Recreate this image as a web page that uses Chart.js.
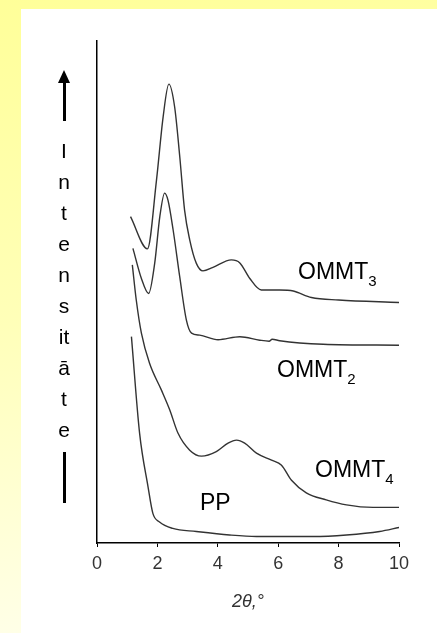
<!DOCTYPE html>
<html>
<head>
<meta charset="utf-8">
<style>
  body {
    margin: 0; width: 437px; height: 633px; overflow: hidden; position: relative;
    background: linear-gradient(170deg, #ffff99 0%, #ffffb8 45%, #fffff2 100%);
    font-family: "Liberation Sans", Arial, sans-serif;
  }
  #panel { position: absolute; left: 21px; top: 9px; right: 0; bottom: 0; background: #fff; }
  #chart { position: absolute; left: 0; top: 0; }
  .lbl { position: absolute; font-size: 23px; line-height: 23px; color: #000; white-space: nowrap; }
  .lbl sub { font-size: 15px; line-height: 0; vertical-align: -7px; }
  #ylab { position: absolute; left: 44px; width: 40px; top: 135px; text-align: center;
          font-size: 21px; line-height: 31px; color: #000; }
  #arrowHead { position: absolute; left: 58px; top: 70px; width: 0; height: 0;
               border-left: 6px solid transparent; border-right: 6px solid transparent;
               border-bottom: 13px solid #000; }
  #arrowStem { position: absolute; left: 63px; top: 82px; width: 2.5px; height: 39px; background: #000; }
  #bar { position: absolute; left: 63px; top: 452px; width: 2.5px; height: 51px; background: #000; }
</style>
</head>
<body>
<div id="panel"></div>
<canvas id="chart" width="437" height="633"></canvas>

<div id="arrowHead"></div>
<div id="arrowStem"></div>
<div id="ylab"><div>I</div><div>n</div><div>t</div><div>e</div><div>n</div><div>s</div><div>it</div><div>ā</div><div>t</div><div>e</div></div>
<div id="bar"></div>

<div class="lbl" style="left:298px;top:260px">OMMT<sub>3</sub></div>
<div class="lbl" style="left:277px;top:358px">OMMT<sub>2</sub></div>
<div class="lbl" style="left:315px;top:458px">OMMT<sub>4</sub></div>
<div class="lbl" style="left:200px;top:491px">PP</div>

<script src="https://cdn.jsdelivr.net/npm/chart.js"></script>
<script>
// 2θ positions and relative intensities of each diffractogram
const ommt3X = [1.11, 1.67, 1.97, 2.19, 2.38, 2.57, 2.74, 2.90, 3.07, 3.29, 3.51, 3.84, 4.45, 4.73, 5.06, 5.44, 6.05, 6.5, 7.1, 8.0, 10];
const ommt3Y = [65.0, 58.6, 72.3, 84.9, 91.4, 86.9, 77.0, 66.3, 60.4, 55.7, 54.2, 54.9, 56.4, 55.8, 52.7, 50.4, 50.4, 50.2, 48.9, 48.4, 47.9];

const ommt2X = [1.19, 1.47, 1.71, 1.91, 2.08, 2.24, 2.35, 2.52, 2.74, 2.96, 3.13, 3.40, 4.01, 4.73, 5.39, 5.70, 5.80, 6.05, 7.49, 10];
const ommt2Y = [58.7, 52.7, 49.7, 55.7, 65.0, 69.7, 68.3, 62.4, 53.0, 44.4, 41.8, 41.4, 40.5, 41.1, 40.4, 40.2, 40.6, 40.3, 39.6, 39.4];

const ommt4X = [1.17, 1.30, 1.47, 1.74, 2.13, 2.41, 2.68, 3.07, 3.46, 3.95, 4.34, 4.62, 4.89, 5.28, 5.78, 6.11, 6.44, 6.93, 7.59, 8.26, 9.14, 10];
const ommt4Y = [55.4, 48.4, 41.8, 35.8, 30.5, 26.5, 21.9, 18.5, 17.3, 18.2, 19.9, 20.5, 19.9, 17.9, 16.5, 15.5, 12.5, 10.0, 8.6, 7.6, 7.1, 7.1];

const ppX = [1.14, 1.41, 1.69, 1.85, 2.07, 2.51, 3.29, 4.39, 5.28, 7.15, 8.26, 9.36, 10];
const ppY = [41.1, 21.9, 11.2, 5.9, 4.2, 2.9, 2.3, 1.6, 1.3, 1.3, 1.6, 2.3, 3.1];

const xTicks = [0, 2, 4, 6, 8, 10];

function pts(xs, ys) {
  return xs.map((x, i) => ({ x: x, y: ys[i] }));
}

new Chart("chart", {
  type: "line",
  data: {
    datasets: [
      { label: "OMMT3", data: pts(ommt3X, ommt3Y) },
      { label: "OMMT2", data: pts(ommt2X, ommt2Y) },
      { label: "OMMT4", data: pts(ommt4X, ommt4Y) },
      { label: "PP", data: pts(ppX, ppY) }
    ]
  },
  options: {
    responsive: false,
    animation: false,
    layout: { padding: { left: 97, top: 41, right: 38, bottom: 0 } },
    plugins: { legend: { display: false }, tooltip: { enabled: false } },
    elements: {
      point: { radius: 0 },
      line: { borderColor: "#333", borderWidth: 1.4, cubicInterpolationMode: "monotone" }
    },
    scales: {
      x: {
        type: "linear", min: 0, max: 10,
        afterBuildTicks: s => { s.ticks = xTicks.map(v => ({ value: v })); },
        afterFit: s => { s.height = 90; },
        ticks: { color: "#333", padding: 6, font: { family: "Liberation Sans", size: 18 } },
        grid: { drawOnChartArea: false, color: "#000", tickLength: 4 },
        border: { color: "#000", width: 1.5 },
        title: {
          display: true, text: "2θ,°", color: "#333",
          font: { family: "Liberation Sans", size: 18, style: "italic" },
          padding: { top: 0, bottom: 20 }
        }
      },
      y: {
        min: 0, max: 100,
        afterFit: s => { s.width = 0; },
        ticks: { display: false },
        grid: { display: false },
        border: { display: true, color: "#000", width: 1.5 }
      }
    }
  }
});
</script>
</body>
</html>
